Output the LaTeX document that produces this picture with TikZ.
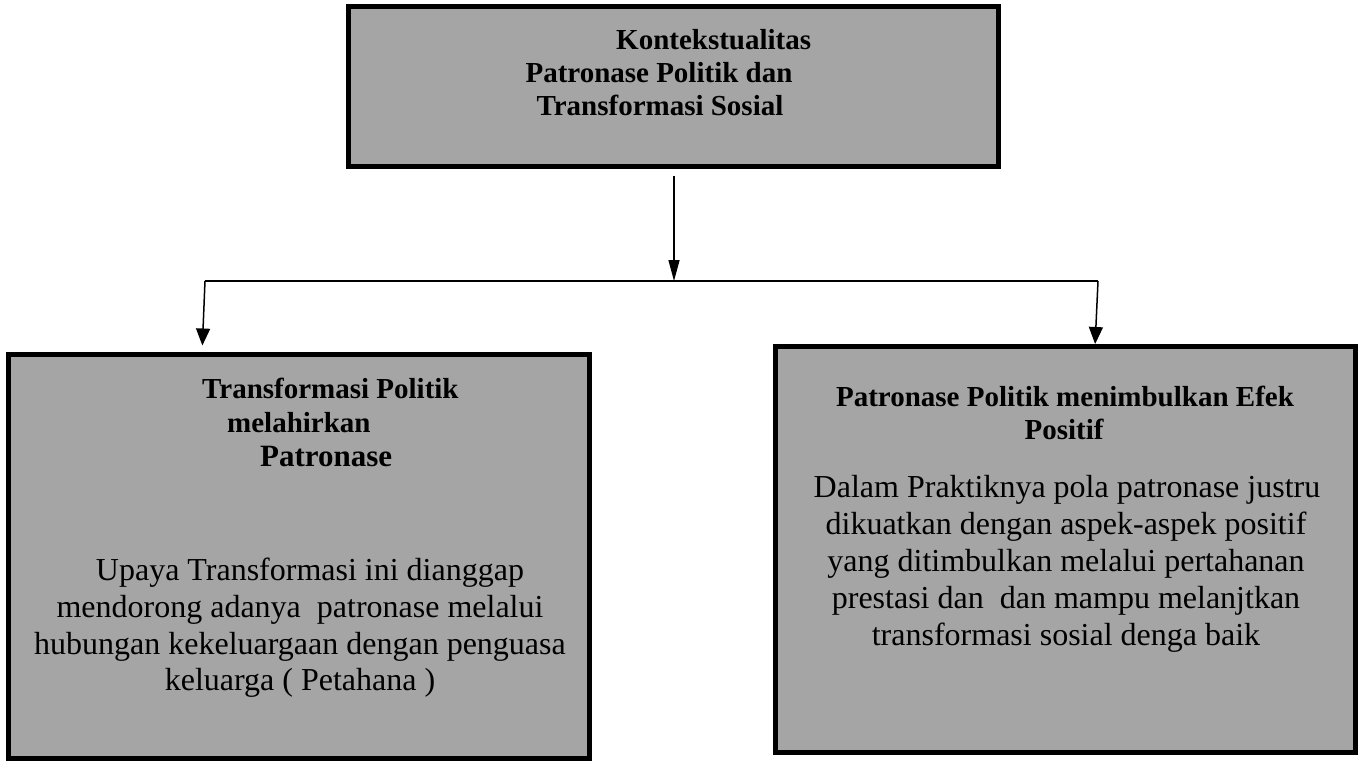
\documentclass[tikz,border=0pt]{standalone}
\usepackage{fontspec}
\setmainfont{Liberation Serif}
\usetikzlibrary{arrows.meta}
\definecolor{boxgray}{RGB}{165,165,165}
\begin{document}
\begin{tikzpicture}[x=1pt,y=-1pt,
  panel/.style={draw=black, line width=5pt, fill=boxgray, rectangle, inner sep=0pt, outer sep=0pt},
  hd/.style={anchor=base, inner sep=0pt, font=\fontsize{29}{33}\selectfont\bfseries},
  hdbig/.style={hd, font=\fontsize{31}{36}\selectfont\bfseries},
  bd/.style={anchor=base, inner sep=0pt, font=\fontsize{32}{37}\selectfont},
  conn/.style={line width=1.5pt, black},
  arr/.style={conn, -{Triangle[length=17pt,width=14pt]}},
  arrlong/.style={conn, -{Triangle[length=21pt,width=11pt]}}]
\useasboundingbox (0,0) rectangle (1364,760);

% boxes
\node[panel, minimum width=650pt, minimum height=160pt] (top) at (673.5,86.5) {};
\node[panel, minimum width=581pt, minimum height=404pt] (left) at (299,556.5) {};
\node[panel, minimum width=580pt, minimum height=406pt] (right) at (1065.5,549.5) {};

% top box text
\node[hd, anchor=base west] (t1) at (616,50) {Kontekstualitas};
\node[hd] (t2) at (659,82) {Patronase Politik dan};
\node[hd] (t3) at (660,115) {Transformasi Sosial};

% left box text
\node[hd, anchor=base west] (l1) at (202,398) {Transformasi Politik};
\node[hd, anchor=base west] (l2) at (227,432) {melahirkan};
\node[hdbig, anchor=base west] (l3) at (260,466) {Patronase};
\node[bd] (l4) at (310,580) {Upaya Transformasi ini dianggap};
\node[bd] (l5) at (300,617) {mendorong adanya\ \ patronase melalui};
\node[bd] (l6) at (300,654) {hubungan kekeluargaan dengan penguasa};
\node[bd] (l7) at (300,690) {keluarga ( Petahana )};

% right box text
\node[hd] (r1) at (1065,406) {Patronase Politik menimbulkan Efek};
\node[hd] (r2) at (1064,439) {Positif};
\node[bd] (r3) at (1067,497) {Dalam Praktiknya pola patronase justru};
\node[bd] (r4) at (1066,534) {dikuatkan dengan aspek-aspek positif};
\node[bd] (r5) at (1066,571) {yang ditimbulkan melalui pertahanan};
\node[bd] (r6) at (1066,608) {prestasi dan\ \ dan mampu melanjtkan};
\node[bd] (r7) at (1066,645) {transformasi sosial denga baik};

% connectors
\coordinate (M) at (674,281);
\coordinate (L) at (205,281);
\coordinate (R) at (1098,281);
\draw[conn] (L) -- (R);
\draw[arrlong, shorten <=9pt] (top.south -| M) -- (M);
\draw[arr, shorten >=9pt] (L) -- ([xshift=-3pt]left.north -| L);
\draw[arr, shorten >=2.5pt] (R) -- ([xshift=-3pt]right.north -| R);
\end{tikzpicture}
\end{document}
